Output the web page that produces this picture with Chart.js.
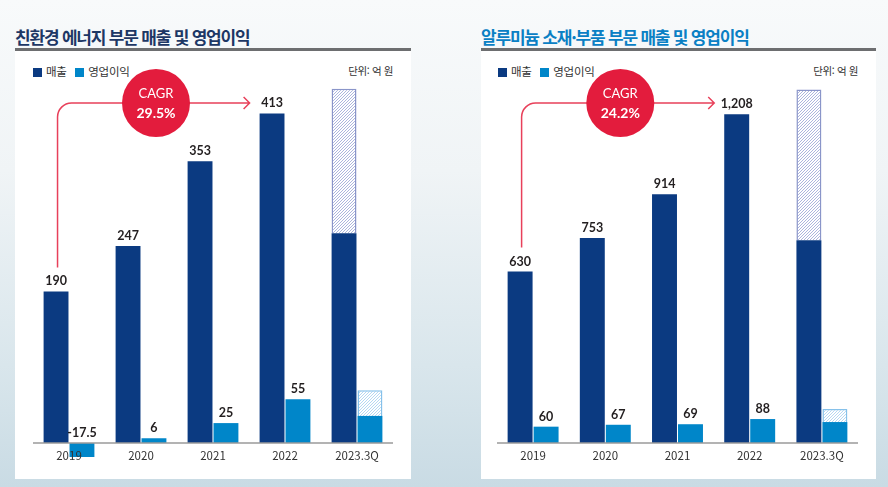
<!DOCTYPE html>
<html lang="ko">
<head>
<meta charset="utf-8">
<script src="https://cdn.jsdelivr.net/npm/chart.js@4.4.1/dist/chart.umd.min.js"></script>
<style>
  html, body { margin: 0; padding: 0; }
  body {
    width: 888px; height: 487px; position: relative; overflow: hidden;
    font-family: "Noto Sans CJK KR", "Noto Sans", sans-serif;
    background: linear-gradient(180deg, #f8fafb 0%, #f0f4f6 35%, #d9e6ec 75%, #c9dbe4 100%);
  }
  .title {
    position: absolute; top: 26px; font-size: 17px; font-weight: 700;
    letter-spacing: -1.2px; line-height: 22px; white-space: nowrap;
  }
  .rule { position: absolute; top: 48px; height: 3px; background: #6d6e70; }
  .panel { position: absolute; top: 51px; height: 428px; background: #fff; }
  .legend {
    position: absolute; top: 63px; font-size: 11.5px; color: #333;
    line-height: 16px; white-space: nowrap; letter-spacing: -0.3px;
  }
  .legend i {
    display: inline-block; width: 9px; height: 9px; margin-right: 4px;
    vertical-align: -1px;
  }
  .unit {
    position: absolute; top: 63px; font-size: 10.5px; color: #333;
    line-height: 16px; text-align: right; letter-spacing: -0.4px;
  }
  canvas { position: absolute; }
</style>
</head>
<body>
  <div class="title" style="left:15px;color:#1d3765;">친환경 에너지 부문 매출 및 영업이익</div>
  <div class="rule" style="left:15px;width:396px;"></div>
  <div class="panel" style="left:15px;width:396px;"></div>

  <div class="title" style="left:481px;color:#0a80c4;">알루미늄 소재·부품 부문 매출 및 영업이익</div>
  <div class="rule" style="left:481px;width:395px;"></div>
  <div class="panel" style="left:481px;width:395px;"></div>

  <div class="legend" style="left:33px;"><i style="background:#0b3a81"></i>매출&nbsp;&nbsp;&nbsp;<i style="background:#0086c9"></i>영업이익</div>
  <div class="unit" style="left:293px;width:100px;">단위: 억 원</div>
  <div class="legend" style="left:498px;"><i style="background:#0b3a81"></i>매출&nbsp;&nbsp;&nbsp;<i style="background:#0086c9"></i>영업이익</div>
  <div class="unit" style="left:758px;width:100px;">단위: 억 원</div>

  <canvas id="chartEnergy" width="396" height="428" style="left:15px;top:50px;"></canvas>
  <canvas id="chartAlu" width="395" height="428" style="left:481px;top:50px;"></canvas>

<script>
// categories
const years = ['2019', '2020', '2021', '2022', '2023.3Q'];

// 친환경 에너지 (억 원)
const energySales = [190, 247, 353, 413, 263];
const energySalesPlan = [null, null, null, null, 181];   // hatched part on top
const energyProfit = [-17.5, 6, 25, 55, 34];
const energyProfitPlan = [null, null, null, null, 32];
const energyCagr = '29.5%';

// 알루미늄 소재·부품 (억 원)
const aluSales = [630, 753, 914, 1208, 745];
const aluSalesPlan = [null, null, null, null, 554];
const aluProfit = [60, 67, 69, 88, 77];
const aluProfitPlan = [null, null, null, null, 48];
const aluCagr = '24.2%';

const NAVY = '#0b3a81';
const BLUE = '#0086c9';
const RED = '#e31c3d';

function hatch(line) {
    const c = document.createElement('canvas');
    c.width = 3; c.height = 3;
    const g = c.getContext('2d');
    g.fillStyle = '#ffffff';
    g.fillRect(0, 0, 3, 3);
    g.strokeStyle = line;
    g.lineWidth = 0.9;
    g.beginPath();
    g.moveTo(0, 3); g.lineTo(3, 0);
    g.moveTo(-1, 1); g.lineTo(1, -1);
    g.moveTo(2, 4); g.lineTo(4, 2);
    g.stroke();
    return g.createPattern(c, 'repeat');
}

// labels, baseline, year ticks and the CAGR arrow
const decorPlugin = {
    id: 'decor',
    afterDatasetsDraw(chart) {
        const ctx = chart.ctx;
        const x = chart.scales.x;
        const y = chart.scales.y;
        const area = chart.chartArea;
        const zeroY = y.getPixelForValue(0);
        const opts = chart.options.plugins.decor;

        ctx.save();
        // baseline
        ctx.strokeStyle = '#9a9a9a';
        ctx.lineWidth = 1.5;
        ctx.beginPath();
        ctx.moveTo(area.left, zeroY);
        ctx.lineTo(area.right, zeroY);
        ctx.stroke();

        // year labels
        ctx.fillStyle = '#333';
        ctx.font = '11.5px "Noto Sans CJK KR", sans-serif';
        ctx.textAlign = 'center';
        ctx.textBaseline = 'middle';
        years.forEach((yr, i) => {
            ctx.fillText(yr, x.getPixelForValue(i), zeroY + 13);
        });

        // value labels (not on the 2023.3Q bars)
        ctx.fillStyle = '#231f20';
        ctx.font = 'bold 12.5px "Lato", "Noto Sans", sans-serif';
        [0, 2].forEach(di => {
            const meta = chart.getDatasetMeta(di);
            const ds = chart.data.datasets[di];
            const plan = chart.data.datasets[di + 1].data;
            meta.data.forEach((el, i) => {
                if (plan[i] != null) return;
                const v = ds.data[i];
                const top = Math.min(el.y, el.base);
                ctx.fillText(v.toLocaleString('en-US'), el.x, top - 10);
            });
        });

        // CAGR arrow
        const first = chart.getDatasetMeta(0).data[0];
        const last = chart.getDatasetMeta(0).data[3];
        const lineY = 53;
        const vx = first.x + 1.5;
        const startY = first.y - 24;
        const tipX = last.x - last.width / 2 - 10;
        const r = 14;
        ctx.strokeStyle = '#e8405a';
        ctx.lineWidth = 1.5;
        ctx.beginPath();
        ctx.moveTo(vx, startY);
        ctx.lineTo(vx, lineY + r);
        ctx.arcTo(vx, lineY, vx + r, lineY, r);
        ctx.lineTo(tipX, lineY);
        ctx.moveTo(tipX - 6, lineY - 6);
        ctx.lineTo(tipX, lineY);
        ctx.lineTo(tipX - 6, lineY + 6);
        ctx.stroke();

        // CAGR circle
        const cx = x.getPixelForValue(1) + 15;
        ctx.fillStyle = RED;
        ctx.beginPath();
        ctx.arc(cx, lineY, 34, 0, Math.PI * 2);
        ctx.fill();
        ctx.fillStyle = '#fff';
        ctx.font = '13px "Lato", "Noto Sans", sans-serif';
        ctx.fillText('CAGR', cx, lineY - 9);
        ctx.font = 'bold 14px "Lato", "Noto Sans", sans-serif';
        ctx.fillText(opts.cagr, cx, lineY + 10);
        ctx.restore();
    }
};

function makeChart(id, sales, salesPlan, profit, profitPlan, yMin, yMax, pad, cagr) {
    new Chart(document.getElementById(id), {
        type: 'bar',
        data: {
            labels: years,
            datasets: [
                { label: '매출', data: sales, stack: 's', backgroundColor: NAVY, borderWidth: 0 },
                { label: '매출(예상)', data: salesPlan, stack: 's', backgroundColor: hatch('#a3add9'),
                  borderColor: '#8a95c9', borderWidth: 1.5, borderSkipped: 'bottom' },
                { label: '영업이익', data: profit, stack: 'p', backgroundColor: BLUE, borderWidth: 0 },
                { label: '영업이익(예상)', data: profitPlan, stack: 'p', backgroundColor: hatch('#add4f1'),
                  borderColor: '#86c1ea', borderWidth: 1.5, borderSkipped: 'bottom' }
            ]
        },
        options: {
            responsive: false,
            animation: false,
            layout: { padding: pad },
            categoryPercentage: 0.72,
            barPercentage: 0.96,
            scales: {
                x: { stacked: true, display: false },
                y: { stacked: true, display: false, min: yMin, max: yMax }
            },
            plugins: {
                legend: { display: false },
                tooltip: { enabled: false },
                decor: { cagr: cagr }
            }
        },
        plugins: [decorPlugin]
    });
}

makeChart('chartEnergy', energySales, energySalesPlan, energyProfit, energyProfitPlan,
    -20, 480, { left: 18, right: 18, top: 10, bottom: 19 }, energyCagr);
makeChart('chartAlu', aluSales, aluSalesPlan, aluProfit, aluProfitPlan,
    0, 1400, { left: 16, right: 18, top: 12, bottom: 35 }, aluCagr);
</script>
</body>
</html>
